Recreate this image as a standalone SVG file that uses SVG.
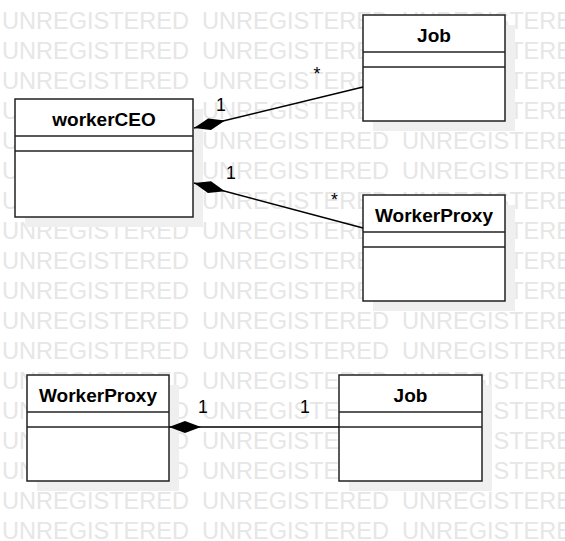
<svg xmlns="http://www.w3.org/2000/svg" width="565" height="541" viewBox="0 0 565 541">
  <style>
    .wm { font-family: "Liberation Sans", Arial, sans-serif; font-size: 23px; fill: #e6e6e6; }
    .shadow { fill: #efefef; stroke: none; }
    .box { fill: #ffffff; stroke: #222222; stroke-width: 1.5; }
    .sep { stroke: #222222; stroke-width: 1.5; }
    .name { font-family: "Liberation Sans", Arial, sans-serif; font-size: 19px; font-weight: bold; fill: #000000; text-anchor: middle; }
    .conn { fill: none; stroke: #000000; stroke-width: 1.5; }
    .mult { font-family: "Liberation Sans", Arial, sans-serif; font-size: 17.7px; fill: #000000; text-anchor: middle; }
  </style>
  <defs>
    <marker id="diamond" markerWidth="34" markerHeight="14" refX="33" refY="7" orient="auto" markerUnits="userSpaceOnUse">
      <path d="M1,7 L17,1 L33,7 L17,13 Z" fill="#000000"/>
    </marker>
  </defs>
  <rect x="0" y="0" width="565" height="541" fill="#ffffff"/>
  <g id="watermark">
    <text class="wm" y="29.3"><tspan x="2" textLength="187" lengthAdjust="spacingAndGlyphs">UNREGISTERED</tspan><tspan x="202" textLength="187" lengthAdjust="spacingAndGlyphs">UNREGISTERED</tspan><tspan x="402" textLength="187" lengthAdjust="spacingAndGlyphs">UNREGISTERED</tspan></text>
    <text class="wm" y="59.3"><tspan x="2" textLength="187" lengthAdjust="spacingAndGlyphs">UNREGISTERED</tspan><tspan x="202" textLength="187" lengthAdjust="spacingAndGlyphs">UNREGISTERED</tspan><tspan x="402" textLength="187" lengthAdjust="spacingAndGlyphs">UNREGISTERED</tspan></text>
    <text class="wm" y="89.3"><tspan x="2" textLength="187" lengthAdjust="spacingAndGlyphs">UNREGISTERED</tspan><tspan x="202" textLength="187" lengthAdjust="spacingAndGlyphs">UNREGISTERED</tspan><tspan x="402" textLength="187" lengthAdjust="spacingAndGlyphs">UNREGISTERED</tspan></text>
    <text class="wm" y="119.3"><tspan x="2" textLength="187" lengthAdjust="spacingAndGlyphs">UNREGISTERED</tspan><tspan x="202" textLength="187" lengthAdjust="spacingAndGlyphs">UNREGISTERED</tspan><tspan x="402" textLength="187" lengthAdjust="spacingAndGlyphs">UNREGISTERED</tspan></text>
    <text class="wm" y="149.3"><tspan x="2" textLength="187" lengthAdjust="spacingAndGlyphs">UNREGISTERED</tspan><tspan x="202" textLength="187" lengthAdjust="spacingAndGlyphs">UNREGISTERED</tspan><tspan x="402" textLength="187" lengthAdjust="spacingAndGlyphs">UNREGISTERED</tspan></text>
    <text class="wm" y="179.3"><tspan x="2" textLength="187" lengthAdjust="spacingAndGlyphs">UNREGISTERED</tspan><tspan x="202" textLength="187" lengthAdjust="spacingAndGlyphs">UNREGISTERED</tspan><tspan x="402" textLength="187" lengthAdjust="spacingAndGlyphs">UNREGISTERED</tspan></text>
    <text class="wm" y="209.3"><tspan x="2" textLength="187" lengthAdjust="spacingAndGlyphs">UNREGISTERED</tspan><tspan x="202" textLength="187" lengthAdjust="spacingAndGlyphs">UNREGISTERED</tspan><tspan x="402" textLength="187" lengthAdjust="spacingAndGlyphs">UNREGISTERED</tspan></text>
    <text class="wm" y="239.3"><tspan x="2" textLength="187" lengthAdjust="spacingAndGlyphs">UNREGISTERED</tspan><tspan x="202" textLength="187" lengthAdjust="spacingAndGlyphs">UNREGISTERED</tspan><tspan x="402" textLength="187" lengthAdjust="spacingAndGlyphs">UNREGISTERED</tspan></text>
    <text class="wm" y="269.3"><tspan x="2" textLength="187" lengthAdjust="spacingAndGlyphs">UNREGISTERED</tspan><tspan x="202" textLength="187" lengthAdjust="spacingAndGlyphs">UNREGISTERED</tspan><tspan x="402" textLength="187" lengthAdjust="spacingAndGlyphs">UNREGISTERED</tspan></text>
    <text class="wm" y="299.3"><tspan x="2" textLength="187" lengthAdjust="spacingAndGlyphs">UNREGISTERED</tspan><tspan x="202" textLength="187" lengthAdjust="spacingAndGlyphs">UNREGISTERED</tspan><tspan x="402" textLength="187" lengthAdjust="spacingAndGlyphs">UNREGISTERED</tspan></text>
    <text class="wm" y="329.3"><tspan x="2" textLength="187" lengthAdjust="spacingAndGlyphs">UNREGISTERED</tspan><tspan x="202" textLength="187" lengthAdjust="spacingAndGlyphs">UNREGISTERED</tspan><tspan x="402" textLength="187" lengthAdjust="spacingAndGlyphs">UNREGISTERED</tspan></text>
    <text class="wm" y="359.3"><tspan x="2" textLength="187" lengthAdjust="spacingAndGlyphs">UNREGISTERED</tspan><tspan x="202" textLength="187" lengthAdjust="spacingAndGlyphs">UNREGISTERED</tspan><tspan x="402" textLength="187" lengthAdjust="spacingAndGlyphs">UNREGISTERED</tspan></text>
    <text class="wm" y="389.3"><tspan x="2" textLength="187" lengthAdjust="spacingAndGlyphs">UNREGISTERED</tspan><tspan x="202" textLength="187" lengthAdjust="spacingAndGlyphs">UNREGISTERED</tspan><tspan x="402" textLength="187" lengthAdjust="spacingAndGlyphs">UNREGISTERED</tspan></text>
    <text class="wm" y="419.3"><tspan x="2" textLength="187" lengthAdjust="spacingAndGlyphs">UNREGISTERED</tspan><tspan x="202" textLength="187" lengthAdjust="spacingAndGlyphs">UNREGISTERED</tspan><tspan x="402" textLength="187" lengthAdjust="spacingAndGlyphs">UNREGISTERED</tspan></text>
    <text class="wm" y="449.3"><tspan x="2" textLength="187" lengthAdjust="spacingAndGlyphs">UNREGISTERED</tspan><tspan x="202" textLength="187" lengthAdjust="spacingAndGlyphs">UNREGISTERED</tspan><tspan x="402" textLength="187" lengthAdjust="spacingAndGlyphs">UNREGISTERED</tspan></text>
    <text class="wm" y="479.3"><tspan x="2" textLength="187" lengthAdjust="spacingAndGlyphs">UNREGISTERED</tspan><tspan x="202" textLength="187" lengthAdjust="spacingAndGlyphs">UNREGISTERED</tspan><tspan x="402" textLength="187" lengthAdjust="spacingAndGlyphs">UNREGISTERED</tspan></text>
    <text class="wm" y="509.3"><tspan x="2" textLength="187" lengthAdjust="spacingAndGlyphs">UNREGISTERED</tspan><tspan x="202" textLength="187" lengthAdjust="spacingAndGlyphs">UNREGISTERED</tspan><tspan x="402" textLength="187" lengthAdjust="spacingAndGlyphs">UNREGISTERED</tspan></text>
    <text class="wm" y="539.3"><tspan x="2" textLength="187" lengthAdjust="spacingAndGlyphs">UNREGISTERED</tspan><tspan x="202" textLength="187" lengthAdjust="spacingAndGlyphs">UNREGISTERED</tspan><tspan x="402" textLength="187" lengthAdjust="spacingAndGlyphs">UNREGISTERED</tspan></text>
  </g>
  <g id="workerCEO">
    <rect class="shadow" x="25" y="109" width="178" height="118"/>
    <rect class="box" x="15" y="99" width="178" height="118"/>
    <line class="sep" x1="15" y1="136" x2="193" y2="136"/>
    <line class="sep" x1="15" y1="151" x2="193" y2="151"/>
    <text class="name" x="104" y="125.5">workerCEO</text>
  </g>
  <g id="job-top">
    <rect class="shadow" x="373" y="25" width="142" height="106"/>
    <rect class="box" x="363" y="15" width="142" height="106"/>
    <line class="sep" x1="363" y1="52" x2="505" y2="52"/>
    <line class="sep" x1="363" y1="67" x2="505" y2="67"/>
    <text class="name" x="434" y="41.5">Job</text>
  </g>
  <g id="workerproxy-top">
    <rect class="shadow" x="373" y="205" width="142" height="106"/>
    <rect class="box" x="363" y="195" width="142" height="106"/>
    <line class="sep" x1="363" y1="232" x2="505" y2="232"/>
    <line class="sep" x1="363" y1="247" x2="505" y2="247"/>
    <text class="name" x="434" y="221.5">WorkerProxy</text>
  </g>
  <g id="workerproxy-bottom">
    <rect class="shadow" x="37" y="385" width="142" height="106"/>
    <rect class="box" x="27" y="375" width="142" height="106"/>
    <line class="sep" x1="27" y1="412" x2="169" y2="412"/>
    <line class="sep" x1="27" y1="427" x2="169" y2="427"/>
    <text class="name" x="98" y="401.5">WorkerProxy</text>
  </g>
  <g id="job-bottom">
    <rect class="shadow" x="349" y="385" width="143" height="106"/>
    <rect class="box" x="339" y="375" width="143" height="106"/>
    <line class="sep" x1="339" y1="412" x2="482" y2="412"/>
    <line class="sep" x1="339" y1="427" x2="482" y2="427"/>
    <text class="name" x="410.5" y="401.5">Job</text>
  </g>
  <g id="connectors">
    <path class="conn" d="M363,87 L194,128" marker-end="url(#diamond)"/>
    <path class="conn" d="M363,228 L194,183" marker-end="url(#diamond)"/>
    <path class="conn" d="M339,427 L169,427" marker-end="url(#diamond)"/>
    <text class="mult" x="221" y="111">1</text>
    <text class="mult" x="317" y="80">*</text>
    <text class="mult" x="231" y="179">1</text>
    <text class="mult" x="334.5" y="206">*</text>
    <text class="mult" x="203" y="413">1</text>
    <text class="mult" x="305" y="413">1</text>
  </g>
</svg>
